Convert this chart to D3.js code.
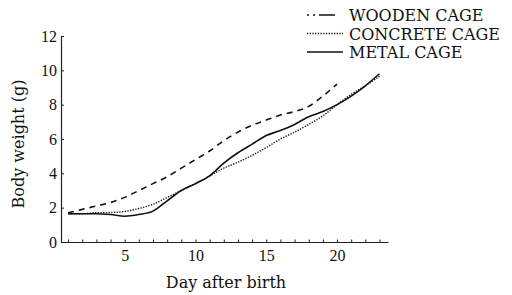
<!DOCTYPE html>
<html>
<head>
<meta charset="utf-8">
<script src="https://cdn.jsdelivr.net/npm/d3@7"></script>
<style>
  body { margin: 0; background: #fff; }
  text { font-family: "DejaVu Serif", serif; fill: #111; }
</style>
</head>
<body>
<div id="chart"></div>
<script>
// days and body weight (g) per cage type
var days = [1, 2, 3, 4, 5, 6, 7, 8, 9, 10, 11, 12, 13, 14, 15, 16, 17, 18, 19, 20, 21, 22, 23];
var wooden = [1.7, 1.9, 2.1, 2.3, 2.6, 3.0, 3.4, 3.8, 4.3, 4.8, 5.3, 5.9, 6.4, 6.8, 7.1, 7.4, 7.6, 7.9, 8.5, 9.2];
var concrete = [1.65, 1.65, 1.7, 1.72, 1.78, 1.95, 2.2, 2.6, 3.0, 3.4, 3.85, 4.3, 4.65, 5.05, 5.5, 6.0, 6.4, 6.85, 7.35, 8.0, 8.6, 9.1, 9.65];
var metal = [1.65, 1.65, 1.65, 1.6, 1.5, 1.6, 1.8, 2.4, 3.0, 3.4, 3.85, 4.6, 5.2, 5.7, 6.2, 6.5, 6.85, 7.3, 7.6, 8.0, 8.5, 9.1, 9.8];
var xLabels = [5, 10, 15, 20];
var yLabels = [0, 2, 4, 6, 8, 10, 12];
var legendNames = ["WOODEN CAGE", "CONCRETE CAGE", "METAL CAGE"];

var width = 512, height = 295;
var tickFont = "Liberation Serif, serif";

var svg = d3.select("#chart").append("svg")
    .attr("width", width)
    .attr("height", height);

var x = d3.scaleLinear().domain([0.5, 23.6]).range([61, 388]);
var y = d3.scaleLinear().domain([0, 12]).range([242, 36]);

// x axis: small inward ticks every day, labels every 5
svg.append("g")
    .attr("transform", "translate(0," + y(0) + ")")
    .call(d3.axisBottom(x).tickValues(days).tickSize(-2.5).tickSizeOuter(0).tickFormat(""))
    .call(function(g) {
        g.select(".domain").attr("stroke", "#222").attr("stroke-width", 1.2);
        g.selectAll(".tick line").attr("stroke", "#222");
    });

svg.append("g")
    .attr("transform", "translate(0," + y(0) + ")")
    .call(d3.axisBottom(x).tickValues(xLabels).tickSize(0).tickPadding(8))
    .call(function(g) {
        g.select(".domain").remove();
        g.selectAll("text").attr("font-size", 16).style("font-family", tickFont).attr("fill", "#111");
    });

// y axis
svg.append("g")
    .attr("transform", "translate(" + x(0.5) + ",0)")
    .call(d3.axisLeft(y).tickValues(yLabels).tickSize(-3).tickSizeOuter(0).tickPadding(4))
    .call(function(g) {
        g.select(".domain").attr("stroke", "#222").attr("stroke-width", 1.2);
        g.selectAll(".tick line").attr("stroke", "#222");
        g.selectAll("text").attr("font-size", 16).style("font-family", tickFont).attr("fill", "#111");
    });

// axis titles
svg.append("text")
    .attr("x", 226)
    .attr("y", 288)
    .attr("text-anchor", "middle")
    .attr("font-size", 16)
    .text("Day after birth");

svg.append("text")
    .attr("transform", "translate(24,144) rotate(-90)")
    .attr("text-anchor", "middle")
    .attr("font-size", 16)
    .text("Body weight (g)");

var line = d3.line()
    .x(function(d, i) { return x(days[i]); })
    .y(function(d) { return y(d); })
    .curve(d3.curveMonotoneX);

var styles = [
    {data: wooden, dash: "6,5", w: 1.6, legendDash: "2,4,2,4,16,40"},
    {data: concrete, dash: "1.3,1.4", w: 1.4, legendDash: "1.3,1.4"},
    {data: metal, dash: null, w: 1.6, legendDash: null}
];

styles.forEach(function(s) {
    svg.append("path")
        .datum(s.data)
        .attr("fill", "none")
        .attr("stroke", "#111")
        .attr("stroke-width", s.w)
        .attr("stroke-dasharray", s.dash)
        .attr("d", line);
});

// legend
var legend = svg.append("g");
legendNames.forEach(function(name, i) {
    var ly = 15 + i * 18.5;
    legend.append("line")
        .attr("x1", 307).attr("x2", 343)
        .attr("y1", ly).attr("y2", ly)
        .attr("stroke", "#111")
        .attr("stroke-width", styles[i].w)
        .attr("stroke-dasharray", styles[i].legendDash);
    legend.append("text")
        .attr("x", 349)
        .attr("y", ly + 6)
        .attr("font-size", 16)
        .text(name);
});
</script>
</body>
</html>
